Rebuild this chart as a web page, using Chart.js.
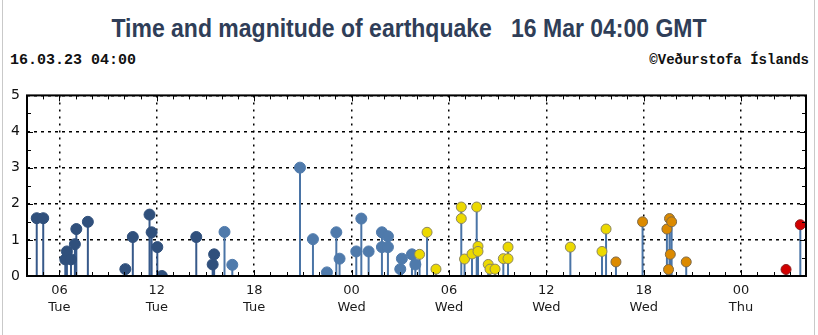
<!DOCTYPE html>
<html>
<head>
<meta charset="utf-8">
<script src="https://cdn.jsdelivr.net/npm/chart.js@4.4.1/dist/chart.umd.min.js"></script>
<style>
  html, body { margin: 0; padding: 0; background: #fff; }
  #page { position: relative; width: 818px; height: 335px; overflow: hidden; }
  #frame { position: absolute; left: 2px; top: -2px; width: 811px; height: 340px;
           border-left: 1px solid #c9c9c9; border-right: 1px solid #c9c9c9; }
  #title { position: absolute; left: 0; top: 15px; width: 818px; text-align: center;
           font-family: "Liberation Sans", Arial, sans-serif; font-weight: bold; font-size: 23px;
           color: #2f3e58; white-space: pre; transform: scaleY(1.15); transform-origin: 50% 50%; }
  .stamp { position: absolute; top: 52px; font-family: "Liberation Mono", monospace;
           font-weight: bold; color: #111; white-space: pre; }
  #stampLeft { left: 10px; font-size: 15px; }
  #stampRight { right: 9px; font-size: 14px; }
  #wrap { position: absolute; left: 0; top: 80px; width: 818px; height: 255px; }
</style>
</head>
<body>
<div id="page">
  <div id="frame"></div>
  <div id="title">Time and magnitude of earthquake   16 Mar 04:00 GMT</div>
  <div class="stamp" id="stampLeft">16.03.23 04:00</div>
  <div class="stamp" id="stampRight">©Veðurstofa Íslands</div>
  <div id="wrap"><canvas id="quakeChart" width="818" height="255"></canvas></div>
</div>
<script>
// Heures depuis mardi 04:00 GMT (fenêtre de 48 h)
const tickHours = [2, 8, 14, 20, 26, 32, 38, 44];
const tickTimes = ['06', '12', '18', '00', '06', '12', '18', '00'];
const tickDays = ['Tue', 'Tue', 'Tue', 'Wed', 'Wed', 'Wed', 'Wed', 'Thu'];

// 36-48 h
const oldHours = [0.60, 1.00, 2.36, 2.46, 2.71, 2.95, 3.04, 3.75, 6.06, 6.52, 7.55, 7.68, 8.03, 8.31, 10.43, 11.44, 11.53];
const oldMags  = [1.6, 1.6, 0.46, 0.68, 0.46, 0.88, 1.3, 1.5, 0.19, 1.08, 1.7, 1.21, 0.8, 0.0, 1.08, 0.32, 0.6];

// 24-36 h
const blueHours = [12.17, 12.65, 16.82, 17.62, 18.48, 19.06, 19.26, 20.29, 20.60, 21.05, 21.87, 21.87, 22.24, 22.24, 23.00, 23.10, 23.72, 23.93];
const blueMags  = [1.22, 0.31, 3.0, 1.02, 0.1, 1.21, 0.48, 0.68, 1.59, 0.68, 1.21, 0.8, 1.1, 0.8, 0.19, 0.48, 0.6, 0.32];

// 12-24 h
const yellowHours = [24.19, 24.65, 25.20, 26.76, 26.76, 26.96, 27.42, 27.71, 27.79, 27.79, 28.42, 28.53, 28.84, 29.35, 29.64, 29.64, 33.48, 35.43, 35.68];
const yellowMags  = [0.6, 1.21, 0.19, 1.91, 1.59, 0.47, 0.61, 1.91, 0.82, 0.68, 0.32, 0.19, 0.19, 0.48, 0.8, 0.48, 0.8, 0.68, 1.3];

// 4-12 h
const orangeHours = [36.29, 37.93, 39.43, 39.53, 39.59, 39.64, 39.72, 40.62];
const orangeMags  = [0.39, 1.5, 1.3, 0.18, 1.59, 0.6, 1.5, 0.39];

// < 4 h
const redHours = [46.77, 47.65];
const redMags  = [0.18, 1.42];

function toPoints(hours, mags) {
  return hours.map((h, i) => ({ x: h, y: mags[i] }));
}

// Tiges verticales : 0 -> magnitude, séparées par des trous
function toStems(hours, mags) {
  const pts = [];
  hours.forEach((h, i) => {
    pts.push({ x: h, y: 0 }, { x: h, y: mags[i] }, { x: h, y: null });
  });
  return pts;
}

function stemSet(hours, mags, color) {
  return {
    data: toStems(hours, mags),
    showLine: true,
    spanGaps: false,
    borderColor: color,
    borderWidth: 2,
    pointRadius: 0,
    order: 10
  };
}

function dotSet(hours, mags, fill, border, radius) {
  return {
    data: toPoints(hours, mags),
    showLine: false,
    pointRadius: radius,
    pointBackgroundColor: fill,
    pointBorderColor: border,
    pointBorderWidth: 1,
    order: 0
  };
}

// Cadre noir + petites graduations
const framePlugin = {
  id: 'frame',
  afterDraw(chart) {
    const { ctx, chartArea: a, scales } = chart;
    ctx.save();
    ctx.strokeStyle = '#000';
    ctx.lineWidth = 1;
    for (let h = 1; h < 48; h++) {
      const x = Math.round(scales.x.getPixelForValue(h)) + 0.5;
      const len = tickHours.includes(h) ? 6 : 4;
      ctx.beginPath();
      ctx.moveTo(x, a.bottom); ctx.lineTo(x, a.bottom - len);
      ctx.moveTo(x, a.top); ctx.lineTo(x, a.top + len);
      ctx.stroke();
    }
    for (let v = 0.5; v < 5; v += 0.5) {
      const y = Math.round(scales.y.getPixelForValue(v)) + 0.5;
      const len = Number.isInteger(v) ? 6 : 4;
      ctx.beginPath();
      ctx.moveTo(a.left, y); ctx.lineTo(a.left + len, y);
      ctx.moveTo(a.right, y); ctx.lineTo(a.right - len, y);
      ctx.stroke();
    }
    ctx.lineWidth = 2;
    ctx.strokeRect(a.left, a.top, a.right - a.left, a.bottom - a.top);
    ctx.restore();
  }
};

const ctx = document.getElementById('quakeChart').getContext('2d');
new Chart(ctx, {
  type: 'scatter',
  data: {
    datasets: [
      dotSet(redHours, redMags, '#d20000', '#8a2020', 5),
      dotSet(orangeHours, orangeMags, '#dc8a00', '#7d6a4a', 5),
      dotSet(yellowHours, yellowMags, '#ecd900', '#8c8660', 5),
      dotSet(blueHours, blueMags, '#4f7aab', '#4f7aab', 5.5),
      dotSet(oldHours, oldMags, '#30507c', '#30507c', 5.5),
      stemSet(redHours, redMags, '#4a74a6'),
      stemSet(orangeHours, orangeMags, '#4a74a6'),
      stemSet(yellowHours, yellowMags, '#4a74a6'),
      stemSet(blueHours, blueMags, '#4a74a6'),
      stemSet(oldHours, oldMags, '#37598a')
    ]
  },
  options: {
    responsive: false,
    animation: false,
    layout: { padding: { top: 12, right: 12, left: 0, bottom: 0 } },
    plugins: {
      legend: { display: false },
      tooltip: { enabled: false }
    },
    scales: {
      x: {
        type: 'linear',
        min: 0,
        max: 48,
        afterBuildTicks: (scale) => {
          scale.ticks = tickHours.map(v => ({ value: v }));
        },
        afterFit: (scale) => { scale.height = 59; },
        grid: { color: '#000', lineWidth: 1.5, drawTicks: false },
        border: { display: false, dash: [2, 5] },
        ticks: {
          padding: 6,
          color: '#1a1a1a',
          font: { family: 'DejaVu Sans', size: 13, lineHeight: 1.3 },
          autoSkip: false,
          maxRotation: 0,
          callback: (value) => {
            const i = tickHours.indexOf(value);
            return i < 0 ? '' : [tickTimes[i], tickDays[i]];
          }
        }
      },
      y: {
        min: 0,
        max: 5,
        afterFit: (scale) => { scale.width = 27; },
        grid: { color: '#000', lineWidth: 1.5, drawTicks: false },
        border: { display: false, dash: [3, 4] },
        ticks: {
          stepSize: 1,
          padding: 7,
          color: '#111',
          font: { family: 'DejaVu Sans', size: 14 }
        }
      }
    }
  },
  plugins: [framePlugin]
});
</script>
</body>
</html>
